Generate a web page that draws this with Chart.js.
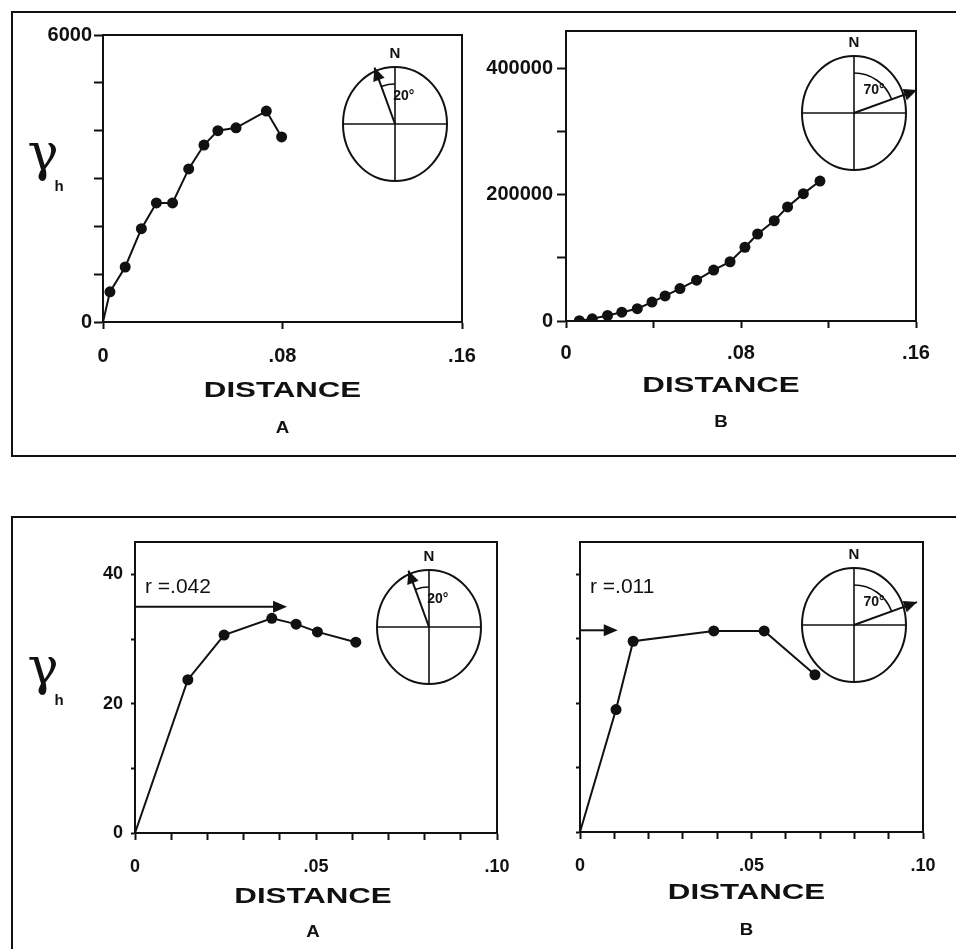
<!DOCTYPE html>
<html>
<head>
<meta charset="utf-8">
<script src="https://cdn.jsdelivr.net/npm/chart.js@4.4.1/dist/chart.umd.min.js"></script>
<style>
  html, body { margin: 0; padding: 0; background: #fff; }
  #page { position: relative; width: 956px; height: 949px; overflow: hidden; background: #fff; }
  #page canvas { position: absolute; left: 0; top: 0; }
  .frame { position: absolute; box-sizing: border-box; border: 2px solid #111; }
</style>
</head>
<body>
<div id="page">
  <div class="frame" style="left:11px; top:11px; width:1000px; height:446px;"></div>
  <div class="frame" style="left:11px; top:516px; width:1000px; height:500px;"></div>
  <canvas id="topA" width="956" height="949"></canvas>
  <canvas id="topB" width="956" height="949"></canvas>
  <canvas id="botA" width="956" height="949"></canvas>
  <canvas id="botB" width="956" height="949"></canvas>
</div>
<script>
const INK = '#111';
const SANS = '"Liberation Sans", Arial, sans-serif';

// upper row, lags out to .16
const lagTopA = [0, 0.0031, 0.0099, 0.0171, 0.0238, 0.031, 0.0382, 0.045, 0.0512, 0.0593, 0.0728, 0.0796];
const gammaTopA = [0, 630, 1150, 1950, 2490, 2490, 3200, 3700, 4000, 4060, 4410, 3870];
const lagTopB = [0, 0.0061, 0.012, 0.019, 0.0255, 0.0326, 0.0393, 0.0453, 0.0521, 0.0597, 0.0675, 0.075, 0.0818, 0.0876, 0.0952, 0.1013, 0.1085, 0.1161];
const gammaTopB = [0, 500, 3500, 8800, 14000, 19500, 30000, 39700, 51500, 64800, 80800, 94000, 117000, 138000, 159000, 181000, 202000, 222000];

// lower row, lags out to .10
const lagBotA = [0, 0.0146, 0.0246, 0.0378, 0.0445, 0.0504, 0.061];
const gammaBotA = [0, 23.7, 30.6, 33.2, 32.3, 31.1, 29.5];
const lagBotB = [0, 0.0105, 0.0155, 0.039, 0.0537, 0.0685];
const gammaBotB = [0, 19.0, 29.6, 31.2, 31.2, 24.4];

// sill / range arrows for the lower row
const sillBotA = 35, rangeBotA = 0.042;
const sillBotB = 31.3, rangeBotB = 0.011;

// direction of each variogram, degrees from north (negative = west of north)
const dirA = -20;
const dirB = 70;

// tick positions
const xTicksTopA = [0, 0.08, 0.16];
const xTicksTopB = [0, 0.04, 0.08, 0.12, 0.16];
const xTicksBot = [0, 0.01, 0.02, 0.03, 0.04, 0.05, 0.06, 0.07, 0.08, 0.09, 0.10];
const yTicksTopA = [0, 1000, 2000, 3000, 4000, 5000, 6000];
const yTicksTopB = [0, 100000, 200000, 300000, 400000];
const yTicksBot = [0, 10, 20, 30, 40];

// which ticks carry a label
const xLabelsTop = [0, 0.08, 0.16];
const xLabelsBot = [0, 0.05, 0.10];
const yLabelsTopA = [0, 6000];
const yLabelsTopB = [0, 200000, 400000];
const yLabelsBotA = [0, 20, 40];
const yLabelsBotB = [];

function fmtLag(v) {
  return v === 0 ? '0' : v.toFixed(2).replace(/^0/, '');
}

function tickText(v, shown, fmt) {
  const hit = shown.some(s => Math.abs(s - v) < 1e-6 * Math.max(1, Math.abs(s)));
  return hit ? fmt(v) : '';
}

function wideText(ctx, text, x, y, font, sx) {
  ctx.save();
  ctx.font = font;
  ctx.textAlign = 'center';
  ctx.textBaseline = 'middle';
  ctx.translate(x, y);
  ctx.scale(sx, 1);
  ctx.fillText(text, 0, 0);
  ctx.restore();
}

function arrowHead(ctx, tx, ty, ang, len, half) {
  // ang = direction the arrow points, canvas radians
  const bx = tx - Math.cos(ang) * len, by = ty - Math.sin(ang) * len;
  ctx.beginPath();
  ctx.moveTo(tx, ty);
  ctx.lineTo(bx + Math.sin(ang) * half, by - Math.cos(ang) * half);
  ctx.lineTo(bx - Math.sin(ang) * half, by + Math.cos(ang) * half);
  ctx.closePath();
  ctx.fill();
}

function drawCompass(ctx, cx, cy, deg) {
  const rx = 52, ry = 57;
  ctx.lineWidth = 2;
  ctx.beginPath();
  ctx.ellipse(cx, cy, rx, ry, 0, 0, Math.PI * 2);
  ctx.stroke();
  ctx.lineWidth = 1.6;
  ctx.beginPath();
  ctx.moveTo(cx - rx, cy); ctx.lineTo(cx + rx, cy);
  ctx.moveTo(cx, cy - ry); ctx.lineTo(cx, cy + ry);
  ctx.stroke();

  ctx.font = 'bold 15px ' + SANS;
  ctx.textAlign = 'center';
  ctx.textBaseline = 'middle';
  ctx.fillText('N', cx, cy - ry - 13);

  // direction line with arrow
  const a = deg * Math.PI / 180;
  const len = Math.abs(deg) > 45 ? 67 : 60;
  const tx = cx + Math.sin(a) * len, ty = cy - Math.cos(a) * len;
  ctx.lineWidth = 2;
  ctx.beginPath();
  ctx.moveTo(cx, cy);
  ctx.lineTo(tx, ty);
  ctx.stroke();
  arrowHead(ctx, tx, ty, a - Math.PI / 2, 13, 6);

  // angle arc from north
  const north = -Math.PI / 2;
  ctx.lineWidth = 1.6;
  ctx.beginPath();
  ctx.arc(cx, cy, 40, Math.min(north, north + a), Math.max(north, north + a));
  ctx.stroke();

  const h = Math.abs(a) / 2;
  ctx.font = 'bold 14px ' + SANS;
  ctx.fillText(Math.abs(deg) + '°', cx + Math.sin(h) * 28 + 4, cy - Math.cos(h) * 28);
}

// box, axis caption, panel letter, compass and sill arrow
const panelDecor = {
  id: 'panelDecor',
  afterDraw(chart, args, o) {
    const ctx = chart.ctx;
    const a = chart.chartArea;
    const xs = chart.scales.x, ys = chart.scales.y;
    ctx.save();
    ctx.strokeStyle = INK;
    ctx.fillStyle = INK;
    ctx.lineWidth = 2;
    ctx.strokeRect(a.left, a.top, a.right - a.left, a.bottom - a.top);

    const mid = (a.left + a.right) / 2 + o.titleDx;
    wideText(ctx, 'DISTANCE', mid, a.bottom + o.titleDy, 'bold 22px ' + SANS, 1.42);
    wideText(ctx, o.letter, mid, a.bottom + o.letterDy, 'bold 17px ' + SANS, 1.1);

    if (o.gamma) {
      ctx.font = '52px "DejaVu Serif", serif';
      ctx.textAlign = 'center';
      ctx.textBaseline = 'alphabetic';
      ctx.fillText('γ', o.gamma.x, o.gamma.y);
      ctx.font = 'bold 15px ' + SANS;
      ctx.fillText('h', o.gamma.x + 16, o.gamma.y + 21);
    }

    drawCompass(ctx, a.right + o.compass[0], a.top + o.compass[1], o.dir);

    if (o.sill !== undefined) {
      const y = ys.getPixelForValue(o.sill);
      const x0 = xs.getPixelForValue(0), x1 = xs.getPixelForValue(o.range);
      ctx.lineWidth = 2;
      ctx.beginPath();
      ctx.moveTo(x0, y);
      ctx.lineTo(x1 - 8, y);
      ctx.stroke();
      arrowHead(ctx, x1, y, 0, 14, 6);
      ctx.font = '21px ' + SANS;
      ctx.textAlign = 'left';
      ctx.textBaseline = 'middle';
      ctx.fillText('r =' + String(o.range).replace(/^0/, ''), a.left + 10, a.top + 45);
    }
    ctx.restore();
  }
};

function makePanel(id, p) {
  const pts = p.lags.map((x, i) => ({ x, y: p.gammas[i] }));
  const tickFont = { family: SANS, size: p.fontSize, weight: 'bold' };
  const gridOf = (len) => ({
    display: true, drawOnChartArea: false, drawTicks: true,
    tickLength: len, tickColor: INK, tickWidth: 2
  });
  return new Chart(document.getElementById(id), {
    type: 'line',
    data: {
      datasets: [{
        data: pts,
        borderColor: INK,
        borderWidth: 2,
        backgroundColor: INK,
        pointBackgroundColor: INK,
        pointBorderColor: INK,
        pointBorderWidth: 0,
        pointRadius: c => (c.dataIndex === 0 ? 0 : 5.5),
        tension: 0
      }]
    },
    options: {
      responsive: false,
      animation: false,
      events: [],
      layout: {
        padding: {
          left: p.area.left - p.yWidth,
          top: p.area.top,
          right: 956 - p.area.right,
          bottom: 949 - p.area.bottom - p.xHeight
        }
      },
      plugins: {
        legend: { display: false },
        tooltip: { enabled: false },
        panelDecor: p.decor
      },
      scales: {
        x: {
          type: 'linear',
          min: 0,
          max: p.xMax,
          afterFit: s => { s.height = p.xHeight; },
          afterBuildTicks: s => { s.ticks = p.xTicks.map(v => ({ value: v })); },
          grid: gridOf(7),
          border: { display: true, color: INK, width: 2 },
          ticks: {
            autoSkip: false,
            maxRotation: 0,
            padding: p.xPad,
            color: INK,
            font: tickFont,
            callback: v => tickText(v, p.xLabels, fmtLag)
          }
        },
        y: {
          type: 'linear',
          min: 0,
          max: p.yMax,
          afterFit: s => { s.width = p.yWidth; },
          afterBuildTicks: s => { s.ticks = p.yTicks.map(v => ({ value: v })); },
          grid: gridOf(p.yTick),
          border: { display: true, color: INK, width: 2 },
          ticks: {
            autoSkip: false,
            padding: p.yPad,
            color: INK,
            font: tickFont,
            callback: v => tickText(v, p.yLabels, String)
          }
        }
      }
    },
    plugins: [panelDecor]
  });
}

makePanel('topA', {
  lags: lagTopA, gammas: gammaTopA,
  area: { left: 103, top: 35, right: 462, bottom: 322 },
  yWidth: 90, xHeight: 70, fontSize: 20,
  xMax: 0.16, xTicks: xTicksTopA, xLabels: xLabelsTop, xPad: 15,
  yMax: 6000, yTicks: yTicksTopA, yLabels: yLabelsTopA, yTick: 9, yPad: 2,
  decor: { letter: 'A', titleDx: 0, titleDy: 69, letterDy: 106, dir: dirA, compass: [-67, 89],
           gamma: { x: 43, y: 170 } }
});

makePanel('topB', {
  lags: lagTopB, gammas: gammaTopB,
  area: { left: 566, top: 31, right: 916, bottom: 321 },
  yWidth: 90, xHeight: 70, fontSize: 20,
  xMax: 0.16, xTicks: xTicksTopB, xLabels: xLabelsTop, xPad: 13,
  yMax: 460000, yTicks: yTicksTopB, yLabels: yLabelsTopB, yTick: 9, yPad: 4,
  decor: { letter: 'B', titleDx: -20, titleDy: 65, letterDy: 101, dir: dirB, compass: [-62, 82] }
});

makePanel('botA', {
  lags: lagBotA, gammas: gammaBotA,
  area: { left: 135, top: 542, right: 497, bottom: 833 },
  yWidth: 60, xHeight: 60, fontSize: 18,
  xMax: 0.10, xTicks: xTicksBot, xLabels: xLabelsBot, xPad: 16,
  yMax: 45, yTicks: yTicksBot, yLabels: yLabelsBotA, yTick: 4, yPad: 8,
  decor: { letter: 'A', titleDx: -3, titleDy: 64, letterDy: 99, dir: dirA, compass: [-68, 85],
           gamma: { x: 43, y: 684 }, sill: sillBotA, range: rangeBotA }
});

makePanel('botB', {
  lags: lagBotB, gammas: gammaBotB,
  area: { left: 580, top: 542, right: 923, bottom: 832 },
  yWidth: 60, xHeight: 60, fontSize: 18,
  xMax: 0.10, xTicks: xTicksBot, xLabels: xLabelsBot, xPad: 16,
  yMax: 45, yTicks: yTicksBot, yLabels: yLabelsBotB, yTick: 4, yPad: 8,
  decor: { letter: 'B', titleDx: -5, titleDy: 61, letterDy: 98, dir: dirB, compass: [-69, 83],
           sill: sillBotB, range: rangeBotB }
});
</script>
</body>
</html>
